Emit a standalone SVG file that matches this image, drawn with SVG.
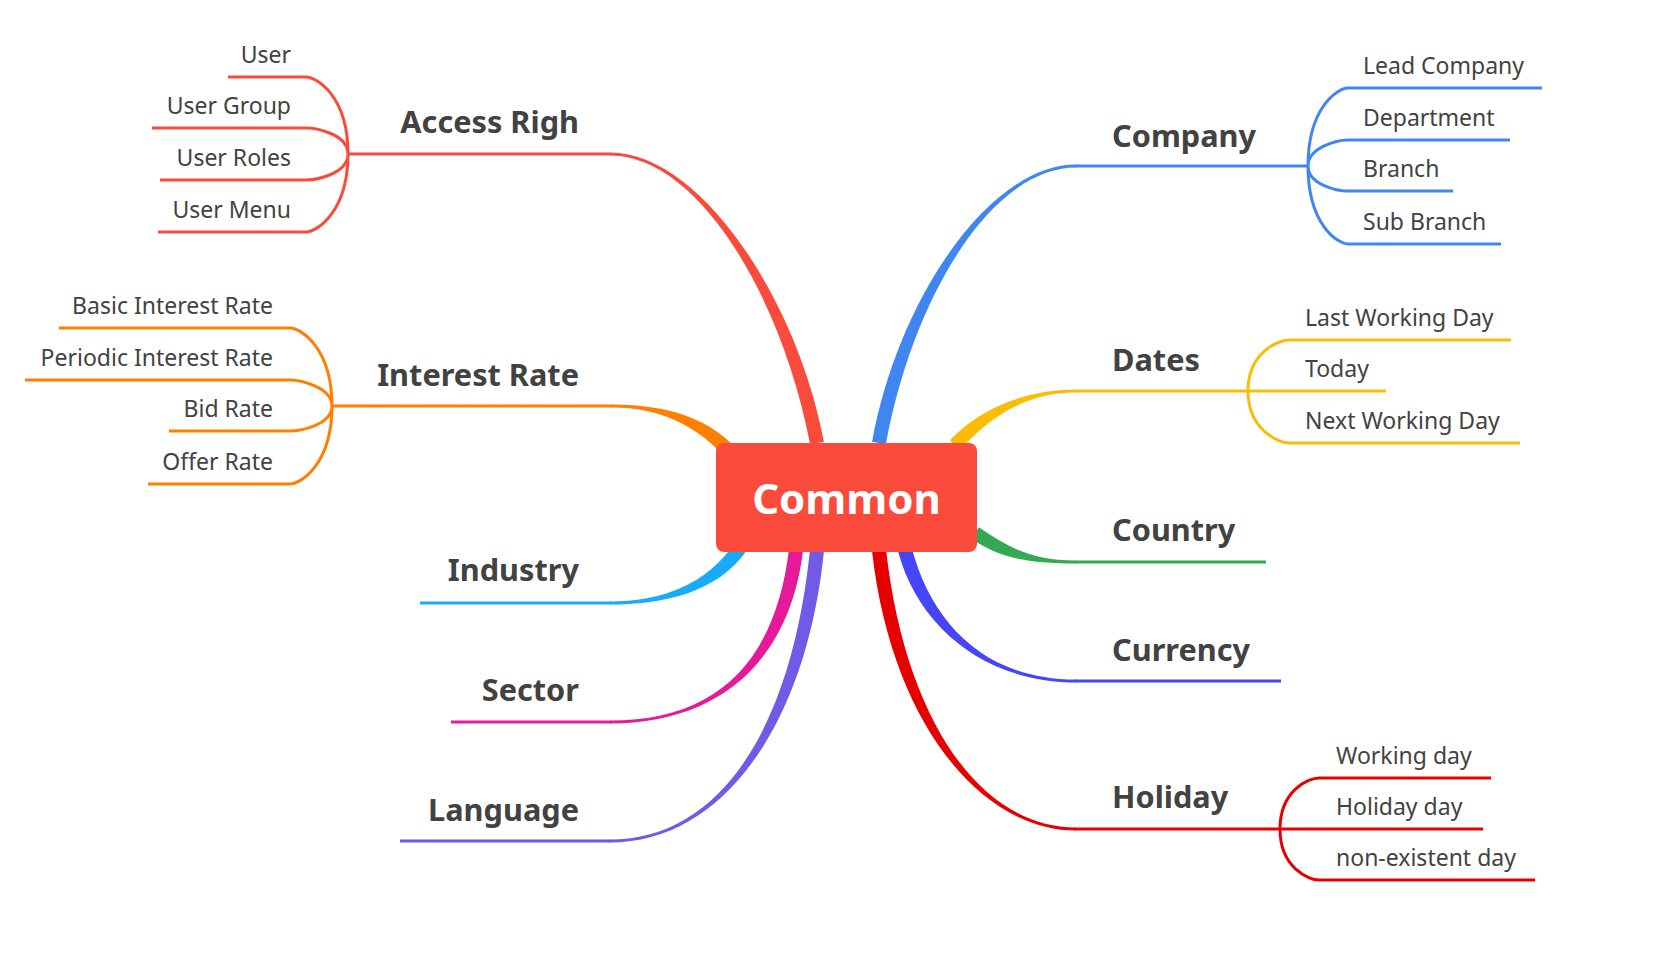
<svg xmlns="http://www.w3.org/2000/svg" width="1654" height="959" viewBox="0 0 1654 959">
<style>
.br{font-family:"Noto Sans","Open Sans","Liberation Sans",sans-serif;font-weight:bold;font-size:30.7px;fill:#424242}
.sb{font-family:"Noto Sans","Open Sans","Liberation Sans",sans-serif;font-size:23px;fill:#424242}
.l{fill:none;stroke-width:3;stroke-linecap:butt}
.e{text-anchor:end}
</style>
<rect width="1654" height="959" fill="#ffffff"/>
<g id="connectors">
  <!-- Access Righ -->
  <path d="M823.9,441.7 C796.9,298.7 700,152.5 610,152.5 L610,155.5 C700,155.5 783.1,301.3 810.1,444.3 Z" fill="#F84B3C"/>
  <path class="l" stroke="#F84B3C" d="M611,154 L348,154"/>
  <path class="l" stroke="#F84B3C" d="M348,154 C348,95 316,77 306,77 L228,77 M348,154 C348,134 316,128 306,128 L152,128 M348,154 C348,174 316,180 306,180 L160,180 M348,154 C348,213 316,232 306,232 L158,232"/>
  <!-- Interest Rate -->
  <path d="M735.1,447.2 C705.1,415.2 660,404.5 612,404.5 L612,407.5 C660,407.5 694.9,424.8 724.9,456.8 Z" fill="#FF7F00"/>
  <path class="l" stroke="#FF7F00" d="M613,406 L332,406"/>
  <path class="l" stroke="#FF7F00" d="M332,406 C332,347 300,328 290,328 L59,328 M332,406 C332,387 300,380 290,380 L25,380 M332,406 C332,425 300,431 290,431 L169,431 M332,406 C332,465 300,484 290,484 L148,484"/>
  <!-- Industry -->
  <path d="M736.2,541.1 C706.2,586.1 660,601.5 610,601.5 L610,604.5 C660,604.5 717.8,593.9 747.8,548.9 Z" fill="#1AABF8"/>
  <path class="l" stroke="#1AABF8" d="M611,603 L420,603"/>
  <!-- Sector -->
  <path d="M789,549.2 C775,664.2 715,720.5 610,720.5 L610,723.5 C715,723.5 789,665.8 803,550.8 Z" fill="#E5199A"/>
  <path class="l" stroke="#E5199A" d="M611,722 L451,722"/>
  <!-- Language -->
  <path d="M810,549.3 C793,719.3 725,839.5 610,839.5 L610,842.5 C725,842.5 807,720.7 824,550.7 Z" fill="#7259E6"/>
  <path class="l" stroke="#7259E6" d="M611,841 L400,841"/>
  <!-- Company -->
  <path d="M885.9,444.3 C911.9,301.3 990,167.5 1076,167.5 L1076,164.5 C990,164.5 898.1,298.7 872.1,441.7 Z" fill="#3F86F0"/>
  <path class="l" stroke="#3F86F0" d="M1075,166 L1308,166"/>
  <path class="l" stroke="#3F86F0" d="M1308,166 C1308,107 1338,88 1348,88 L1542,88 M1308,166 C1308,147 1338,140 1348,140 L1510,140 M1308,166 C1308,185 1338,191 1348,191 L1453,191 M1308,166 C1308,225 1338,244 1348,244 L1501,244"/>
  <!-- Dates -->
  <path d="M960.1,449.8 C985.1,422.8 1020,392.5 1076,392.5 L1076,389.5 C1020,389.5 974.9,413.2 949.9,440.2 Z" fill="#FBBC05"/>
  <path class="l" stroke="#FBBC05" d="M1075,391 L1386,391"/>
  <path class="l" stroke="#FBBC05" d="M1248,391 C1248,352 1279,340 1289,340 L1511,340 M1248,391 C1248,430 1279,443 1289,443 L1520,443"/>
  <!-- Country -->
  <path d="M971.1,538.8 C1001.1,558.8 1030,563.5 1076,563.5 L1076,560.5 C1030,560.5 1008.9,547.2 978.9,527.2 Z" fill="#34A853"/>
  <path class="l" stroke="#34A853" d="M1075,562 L1266,562"/>
  <!-- Currency -->
  <path d="M898.2,551.8 C918.2,626.8 985,682.5 1076,682.5 L1076,679.5 C985,679.5 931.8,623.2 911.8,548.2 Z" fill="#4646F8"/>
  <path class="l" stroke="#4646F8" d="M1075,681 L1281,681"/>
  <!-- Holiday -->
  <path d="M872,550.8 C891,720.8 980,830.5 1076,830.5 L1076,827.5 C980,827.5 905,719.2 886,549.2 Z" fill="#E60000"/>
  <path class="l" stroke="#E60000" d="M1075,829 L1483,829"/>
  <path class="l" stroke="#E60000" d="M1280,829 C1280,790 1309,778 1319,778 L1491,778 M1280,829 C1280,868 1309,880 1319,880 L1535,880"/>
</g>
<g id="node-common">
  <rect x="716" y="443" width="261" height="109" rx="8" fill="#FA4A3C"/>
  <text x="846.5" y="514" text-anchor="middle" font-family="Noto Sans, Open Sans, Liberation Sans, sans-serif" font-weight="bold" font-size="42" fill="#ffffff">Common</text>
</g>
<g id="node-access">
  <text class="br e" x="579" y="133">Access Righ</text>
  <text class="sb e" x="291" y="63">User</text>
  <text class="sb e" x="291" y="114">User Group</text>
  <text class="sb e" x="291" y="166">User Roles</text>
  <text class="sb e" x="291" y="218">User Menu</text>
</g>
<g id="node-interest">
  <text class="br e" x="579" y="386">Interest Rate</text>
  <text class="sb e" x="273" y="314">Basic Interest Rate</text>
  <text class="sb e" x="273" y="366">Periodic Interest Rate</text>
  <text class="sb e" x="273" y="417">Bid Rate</text>
  <text class="sb e" x="273" y="470">Offer Rate</text>
</g>
<g id="node-industry"><text class="br e" x="579" y="581">Industry</text></g>
<g id="node-sector"><text class="br e" x="579" y="701">Sector</text></g>
<g id="node-language"><text class="br e" x="579" y="821">Language</text></g>
<g id="node-company">
  <text class="br" x="1112" y="147">Company</text>
  <text class="sb" x="1363" y="74">Lead Company</text>
  <text class="sb" x="1363" y="126">Department</text>
  <text class="sb" x="1363" y="177">Branch</text>
  <text class="sb" x="1363" y="230">Sub Branch</text>
</g>
<g id="node-dates">
  <text class="br" x="1112" y="371">Dates</text>
  <text class="sb" x="1305" y="326">Last Working Day</text>
  <text class="sb" x="1305" y="377">Today</text>
  <text class="sb" x="1305" y="429">Next Working Day</text>
</g>
<g id="node-country"><text class="br" x="1112" y="541">Country</text></g>
<g id="node-currency"><text class="br" x="1112" y="661">Currency</text></g>
<g id="node-holiday">
  <text class="br" x="1112" y="808">Holiday</text>
  <text class="sb" x="1336" y="764">Working day</text>
  <text class="sb" x="1336" y="815">Holiday day</text>
  <text class="sb" x="1336" y="866">non-existent day</text>
</g>
</svg>
